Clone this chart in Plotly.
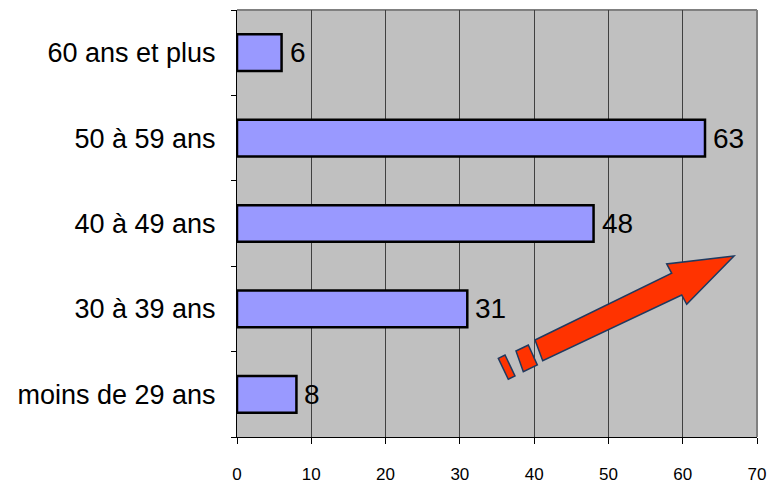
import plotly.graph_objects as go

# Répartition par tranche d'âge
categories = ["moins de 29 ans", "30 à 39 ans", "40 à 49 ans", "50 à 59 ans", "60 ans et plus"]
values = [8, 31, 48, 63, 6]
x_ticks = [0, 10, 20, 30, 40, 50, 60, 70]

FONT = "Liberation Sans, Arial, sans-serif"

fig = go.Figure()
fig.add_trace(go.Bar(
    y=categories,
    x=values,
    orientation="h",
    marker=dict(color="#9999ff", line=dict(color="black", width=2.5)),
    hoverinfo="x+y",
))

# Value labels next to each bar
for cat, v in zip(categories, values):
    fig.add_annotation(
        x=v, y=cat, xref="x", yref="y",
        text=str(v), showarrow=False,
        xanchor="left", yanchor="middle", xshift=6,
        font=dict(family=FONT, size=28, color="black"),
    )

# Upward trend arrow (paper coordinates, plot area 520x427 px)
W, H = 520.0, 427.0
def to_paper(pts):
    return [((px - 237) / W, (437 - py) / H) for px, py in pts]

def path(pts):
    p = to_paper(pts)
    return "M " + " L ".join(f"{x:.4f},{y:.4f}" for x, y in p) + " Z"

arrow = [(535, 340), (671.7, 273.3), (666.7, 264), (734, 256), (686.7, 304.3),
         (681.7, 295), (542.7, 360.7)]
block1 = [(516, 351), (528.3, 345), (537.3, 365), (523.3, 371.7)]
block2 = [(498.3, 358.3), (505, 355), (515, 376), (508.3, 379.3)]
for pts in (arrow, block1, block2):
    fig.add_shape(type="path", xref="paper", yref="paper", path=path(pts),
                  fillcolor="#ff3300", line=dict(color="#1f3a60", width=1.5),
                  layer="above")

# Grey frame on top and right
fig.add_shape(type="line", xref="paper", yref="paper", x0=0, x1=1, y0=1, y1=1,
              line=dict(color="#808080", width=2), layer="below")
fig.add_shape(type="line", xref="paper", yref="paper", x0=1, x1=1, y0=0, y1=1,
              line=dict(color="#808080", width=2), layer="below")

fig.update_layout(
    width=783, height=485,
    margin=dict(l=237, r=26, t=10, b=48),
    paper_bgcolor="white",
    plot_bgcolor="#c0c0c0",
    showlegend=False,
    bargap=0.57,
    font=dict(family=FONT, color="black"),
    xaxis=dict(
        range=[0, 70], tickvals=x_ticks, ticktext=[str(t) for t in x_ticks],
        showgrid=True, gridcolor="#404040", gridwidth=1,
        showline=True, linecolor="black", linewidth=1,
        ticks="outside", ticklen=6, tickcolor="black",
        tickfont=dict(family=FONT, size=17, color="black"),
        ticklabelstandoff=16, zeroline=False, fixedrange=True, automargin=False,
    ),
    yaxis=dict(
        categoryorder="array", categoryarray=categories,
        showgrid=False, showline=True, linecolor="black", linewidth=1,
        ticks="outside", ticklen=5, tickcolor="black", tickson="boundaries",
        tickfont=dict(family=FONT, size=27, color="black"),
        ticklabelstandoff=15, fixedrange=True, automargin=False,
    ),
)

fig.write_html("out.html")
